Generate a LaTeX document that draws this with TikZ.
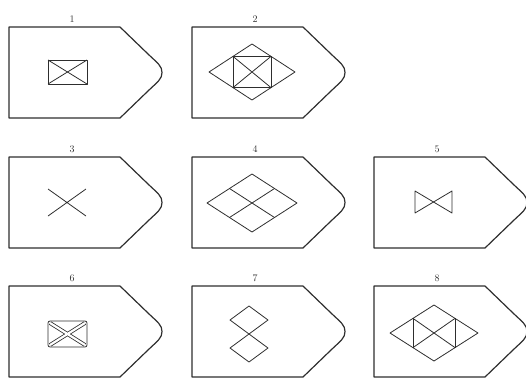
\documentclass[tikz,border=0pt]{standalone}
\usepackage{tikz}
\definecolor{ink}{HTML}{2E2E2E}

\tikzset{
  plate/.pic={
    \draw[rim] (0,0) -- (111,0) -- (139,27)
      .. controls (149,36.5) and (153,39) .. (153,45.5)
      .. controls (153,52) and (149,54.5) .. (139,64)
      -- (111,91) -- (0,91) -- cycle;
  }
}

\begin{document}
\begin{tikzpicture}[
  x=1pt, y=-1pt,
  rim/.style={draw=ink, line width=1.2pt, line join=round},
  fig/.style={draw=ink, line width=0.8pt, line join=round},
  num/.style={font=\fontsize{10}{11}\selectfont, text=ink, inner sep=1pt, anchor=south}
]
  \useasboundingbox (0,0) rectangle (526,378);

  % plates and their numbers
  \foreach \n/\x/\y in {1/9/27, 2/192/27, 3/9/157, 4/192/157,
                        5/374/157, 6/9/286, 7/192/286, 8/374/286} {
    \pic at (\x,\y) {plate};
    \node[num] (n\n) at (\x+63,\y-3) {\n};
  }

  % 1
  \draw[fig, line width=1pt] (48,60) rectangle (87,84);
  \draw[fig] (48,60) -- (87,84) (48,84) -- (87,60);

  % 2
  \draw[fig] (209,72) -- (252,44) -- (295,72) -- (252,100) -- cycle;
  \draw[fig] (233,56.4) rectangle (271,87.6);
  \draw[fig] (233,56.4) -- (271,87.6) (233,87.6) -- (271,56.4);

  % 3
  \draw[fig] (48,189) -- (86,216) (48,216) -- (86,189);

  % 4
  \draw[fig] (207,203) -- (252,174) -- (297,203) -- (252,232) -- cycle;
  \draw[fig] (229.5,188.5) -- (274.5,217.5) (274.5,188.5) -- (229.5,217.5);

  % 5
  \draw[fig] (415,191) -- (415,213) -- (452,191) -- (452,213) -- cycle;

  % 6
  \draw[fig, rounded corners=2pt] (48,321) rectangle (87,347);
  \draw[fig, double, double distance=2.2pt, line width=0.8pt]
    (50,323) -- (85,345) (50,345) -- (85,323);

  % 7
  \draw[fig] (230,320) -- (249,306) -- (268,320) -- (249,334) -- cycle;
  \draw[fig] (230,348) -- (249,334) -- (268,348) -- (249,362) -- cycle;

  % 8
  \draw[fig] (390,333) -- (434,305) -- (478,333) -- (434,361) -- cycle;
  \draw[fig] (413,318.4) -- (413,347.6) (455,318.4) -- (455,347.6);
  \draw[fig] (413,318.4) -- (455,347.6) (455,318.4) -- (413,347.6);
\end{tikzpicture}
\end{document}
